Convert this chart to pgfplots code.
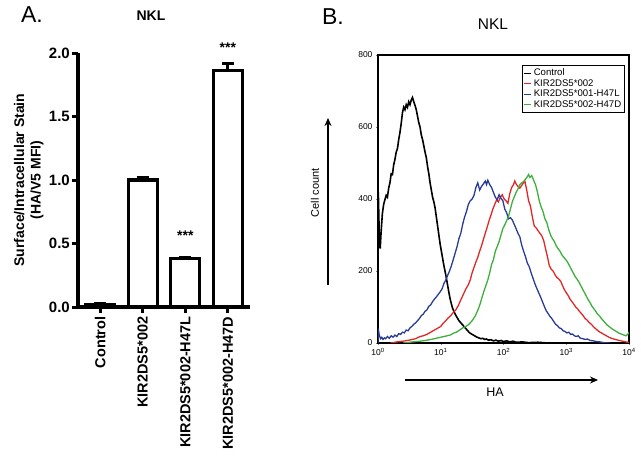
\documentclass[border=0pt]{standalone}
\usepackage{pgfplots}
\pgfplotsset{compat=1.18}
\usetikzlibrary{arrows.meta}
\usepackage{fontspec}
\setmainfont{Liberation Sans}
\definecolor{cRed}{RGB}{225,40,40}
\definecolor{cBlue}{RGB}{40,60,150}
\definecolor{cGreen}{RGB}{60,175,60}
\begin{document}
\begin{tikzpicture}
\path[use as bounding box] (0pt,0pt) rectangle (641pt,-457pt);
% ---------- Panel A ----------
\begin{axis}[
  at={(78pt,-307pt)}, anchor=south west, scale only axis,
  width=172pt, height=254pt,
  xmin=-0.52, xmax=3.52, ymin=0, ymax=2.0,
  axis lines=left, axis line style={-, line width=3.4pt},
  clip=false,
  xtick={0,1,2,3},
  xticklabels={Control, KIR2DS5*002, KIR2DS5*002-H47L, KIR2DS5*002-H47D},
  ytick={0,0.5,1.0,1.5,2.0},
  tick align=outside, major tick length=6pt,
  tick style={line width=3pt, black},
  /pgf/number format/assume math mode=true,
  yticklabel style={font=\bfseries\fontsize{15}{17}\selectfont, inner sep=2pt,
     /pgf/number format/.cd, fixed, fixed zerofill, precision=1},
  xticklabel style={font=\bfseries\fontsize{14.5}{17}\selectfont, rotate=90, anchor=east},
  ylabel={Surface/Intracellular Stain\\(HA/V5 MFI)},
  ylabel style={font=\bfseries\fontsize{14}{16.5}\selectfont, align=center},
]
\addplot[ybar, bar width=0.68, bar shift=0pt, fill=white, draw=black, line width=3.2pt,
  error bars/.cd, y dir=plus, y explicit,
  error bar style={line width=3pt, black},
  error mark options={rotate=90, mark size=6pt, line width=3pt, black}]
  coordinates {(0,0.02) +- (0,0.004) (1,1.0) +- (0,0.02) (2,0.38) +- (0,0.01) (3,1.86) +- (0,0.06)};
\node[font=\bfseries\fontsize{14}{14}\selectfont] at (axis cs:2,0.56) {***};
\node[font=\bfseries\fontsize{14}{14}\selectfont] at (axis cs:3,2.04) {***};
\end{axis}
\node[font=\fontsize{23}{26}\selectfont] at (32pt,-15pt) {A.};
\node[font=\bfseries\fontsize{14}{16}\selectfont] at (151pt,-16pt) {NKL};
% ---------- Panel B ----------
\begin{axis}[
  at={(378pt,-343pt)}, anchor=south west, scale only axis,
  width=251pt, height=288pt,
  xmin=0, xmax=4, ymin=0, ymax=800,
  axis line style={line width=1.6pt},
  xtick={0,1,2,3,4},
  xticklabels={10\textsuperscript{0},10\textsuperscript{1},10\textsuperscript{2},10\textsuperscript{3},10\textsuperscript{4}},
  ytick={0,200,400,600,800},
  tick align=outside, major tick length=2pt,
  xtick pos=bottom, ytick pos=left,
  /pgf/number format/assume math mode=true,
  tick label style={font=\fontsize{8.5}{9}\selectfont},
  legend style={at={(rel axis cs:0.985,0.965)}, anchor=north east,
     font=\fontsize{9.6}{7.8}\selectfont, draw=black, line width=0.9pt,
     inner sep=1.5pt, row sep=-1.8pt, cells={anchor=west}},
  legend image code/.code={\draw[#1, line width=0.8pt] (0pt,0pt) -- (7pt,0pt);},
]
\addplot[black, line width=1.6pt] coordinates {
(0.00,0) (0.005,420) (0.02,300) (0.035,262) (0.05,310) (0.07,360) (0.09,385) (0.11,398)
(0.13,410) (0.15,405) (0.17,430) (0.19,445) (0.21,470) (0.23,468) (0.25,495) (0.27,510)
(0.29,530) (0.31,540) (0.33,565) (0.35,585) (0.37,610) (0.39,640) (0.41,655) (0.43,648)
(0.45,662) (0.47,655) (0.49,670) (0.51,662) (0.53,675) (0.55,682) (0.57,670) (0.59,660)
(0.61,648) (0.63,630) (0.65,612) (0.67,600) (0.69,578) (0.71,565) (0.73,548) (0.75,530)
(0.77,515) (0.79,490) (0.81,470) (0.83,445) (0.85,425) (0.87,405) (0.89,392) (0.91,375)
(0.93,350) (0.95,325) (0.97,300) (0.99,275) (1.01,255) (1.03,235) (1.05,215) (1.07,198)
(1.09,180) (1.11,160) (1.13,140) (1.15,122) (1.17,108) (1.19,96) (1.21,88) (1.23,80)
(1.25,74) (1.27,68) (1.29,62) (1.31,58) (1.33,54) (1.35,50) (1.37,46) (1.39,42)
(1.41,38) (1.43,34) (1.45,30) (1.47,27) (1.49,25) (1.52,22) (1.55,19) (1.58,16)
(1.61,14) (1.64,12) (1.67,13) (1.70,10) (1.73,11) (1.76,8) (1.80,9) (1.84,6)
(1.88,8) (1.92,5) (1.96,7) (2.00,4) (2.05,6) (2.10,3) (2.15,5) (2.20,2)
(2.30,3) (2.40,1) (2.55,2) (2.70,0)};
\addlegendentry{Control}
\addplot[cRed, line width=1.3pt] coordinates {
(0.20,0) (0.30,3) (0.40,5) (0.50,8) (0.60,12) (0.67,18) (0.72,20) (0.78,24) (0.84,30)
(0.90,36) (0.96,42) (1.00,46) (1.04,55) (1.08,62) (1.12,70) (1.16,76) (1.20,85) (1.24,92)
(1.28,104) (1.32,120) (1.36,135) (1.40,150) (1.44,162) (1.47,175) (1.50,195) (1.53,210)
(1.56,225) (1.59,238) (1.62,255) (1.65,270) (1.68,288) (1.71,305) (1.74,322) (1.77,340)
(1.80,355) (1.83,372) (1.86,385) (1.89,397) (1.92,392) (1.95,405) (1.98,412) (2.01,400)
(2.04,395) (2.07,388) (2.10,415) (2.13,432) (2.16,440) (2.18,450) (2.20,442) (2.23,435)
(2.26,430) (2.29,438) (2.32,445) (2.34,450) (2.37,425) (2.40,395) (2.43,380) (2.46,350)
(2.49,325) (2.52,320) (2.55,312) (2.58,305) (2.61,298) (2.64,285) (2.67,262) (2.70,240)
(2.73,215) (2.76,205) (2.79,200) (2.82,190) (2.85,182) (2.88,178) (2.91,172) (2.94,160)
(2.97,148) (3.00,140) (3.03,132) (3.06,122) (3.09,115) (3.12,108) (3.15,100) (3.18,95)
(3.21,88) (3.24,82) (3.27,76) (3.30,68) (3.33,64) (3.36,58) (3.40,52) (3.44,44)
(3.48,38) (3.52,32) (3.56,28) (3.60,24) (3.64,20) (3.68,16) (3.72,13) (3.76,11)
(3.80,9) (3.85,7) (3.90,5) (3.95,3) (4.00,2)};
\addlegendentry{KIR2DS5*002}
\addplot[cBlue, line width=1.3pt] coordinates {
(0.000,0) (0.005,40) (0.02,22) (0.04,12) (0.06,16) (0.08,10) (0.10,14) (0.12,12)
(0.15,18) (0.18,13) (0.21,20) (0.24,16) (0.27,22) (0.30,18) (0.33,26) (0.36,24)
(0.39,30) (0.42,28) (0.45,36) (0.48,34) (0.51,42) (0.54,46) (0.57,52) (0.60,56)
(0.63,62) (0.66,68) (0.69,76) (0.72,80) (0.75,88) (0.78,92) (0.81,102) (0.84,106)
(0.87,115) (0.90,122) (0.93,128) (0.96,135) (0.99,142) (1.02,150) (1.05,165) (1.08,175)
(1.11,188) (1.14,200) (1.17,215) (1.20,232) (1.23,250) (1.26,268) (1.29,290) (1.32,305)
(1.35,330) (1.38,350) (1.41,365) (1.44,385) (1.47,395) (1.50,400) (1.53,410) (1.56,432)
(1.59,445) (1.62,425) (1.65,435) (1.68,442) (1.71,450) (1.73,440) (1.75,452) (1.78,440)
(1.81,432) (1.84,418) (1.87,405) (1.90,398) (1.93,412) (1.96,402) (1.99,395) (2.02,372)
(2.05,362) (2.08,345) (2.11,348) (2.14,342) (2.17,330) (2.20,318) (2.23,305) (2.26,295)
(2.29,272) (2.32,255) (2.35,240) (2.38,222) (2.41,212) (2.44,195) (2.47,180) (2.50,165)
(2.53,152) (2.56,140) (2.59,128) (2.62,115) (2.65,102) (2.68,90) (2.71,82) (2.74,74)
(2.77,68) (2.80,60) (2.83,52) (2.86,48) (2.89,42) (2.92,40) (2.95,34) (2.98,32)
(3.01,28) (3.04,30) (3.07,24) (3.10,25) (3.13,20) (3.16,18) (3.19,20) (3.22,14)
(3.26,12) (3.30,10) (3.34,11) (3.38,7) (3.43,6) (3.48,4) (3.54,3) (3.60,1) (3.70,0)};
\addlegendentry{KIR2DS5*001-H47L}
\addplot[cGreen, line width=1.3pt] coordinates {
(0.40,0) (0.55,3) (0.67,5) (0.75,7) (0.85,10) (0.95,14) (1.05,18) (1.15,22) (1.20,27)
(1.25,30) (1.30,36) (1.35,42) (1.40,46) (1.45,52) (1.50,62) (1.55,75) (1.60,95)
(1.63,110) (1.66,128) (1.69,145) (1.72,160) (1.75,175) (1.78,195) (1.81,218) (1.84,232)
(1.87,255) (1.90,268) (1.93,282) (1.96,300) (1.99,318) (2.02,328) (2.05,340) (2.08,352)
(2.11,372) (2.14,392) (2.17,405) (2.20,418) (2.23,428) (2.26,440) (2.29,445) (2.32,448)
(2.35,455) (2.38,462) (2.40,468) (2.42,460) (2.45,465) (2.48,452) (2.51,440) (2.54,420)
(2.57,395) (2.60,378) (2.63,365) (2.66,345) (2.69,335) (2.72,315) (2.75,300) (2.78,290)
(2.81,282) (2.84,270) (2.87,262) (2.90,255) (2.93,245) (2.96,238) (2.99,232) (3.02,225)
(3.05,215) (3.08,205) (3.11,195) (3.14,185) (3.17,178) (3.20,170) (3.23,160) (3.26,150)
(3.29,140) (3.32,130) (3.35,120) (3.38,112) (3.41,102) (3.44,95) (3.47,88) (3.50,80)
(3.53,75) (3.56,68) (3.59,62) (3.62,56) (3.65,50) (3.68,46) (3.71,42) (3.74,38)
(3.77,35) (3.80,32) (3.83,28) (3.86,26) (3.89,24) (3.92,22) (3.95,20) (3.98,24) (4.00,30)};
\addlegendentry{KIR2DS5*002-H47D}
\end{axis}
\node[font=\fontsize{23}{26}\selectfont] at (333pt,-17pt) {B.};
\node[font=\fontsize{15.5}{18}\selectfont] at (493pt,-24pt) {NKL};
\draw[-{Stealth[length=8pt,width=7pt]}, line width=1.8pt] (328pt,-285pt) -- (328pt,-118pt);
\node[rotate=90, font=\fontsize{11}{12}\selectfont] at (315pt,-193pt) {Cell count};
\draw[-{Stealth[length=8pt,width=7pt]}, line width=1.8pt] (405pt,-380pt) -- (598pt,-380pt);
\node[font=\fontsize{12.5}{14}\selectfont] at (495pt,-392pt) {HA};
\end{tikzpicture}
\end{document}
